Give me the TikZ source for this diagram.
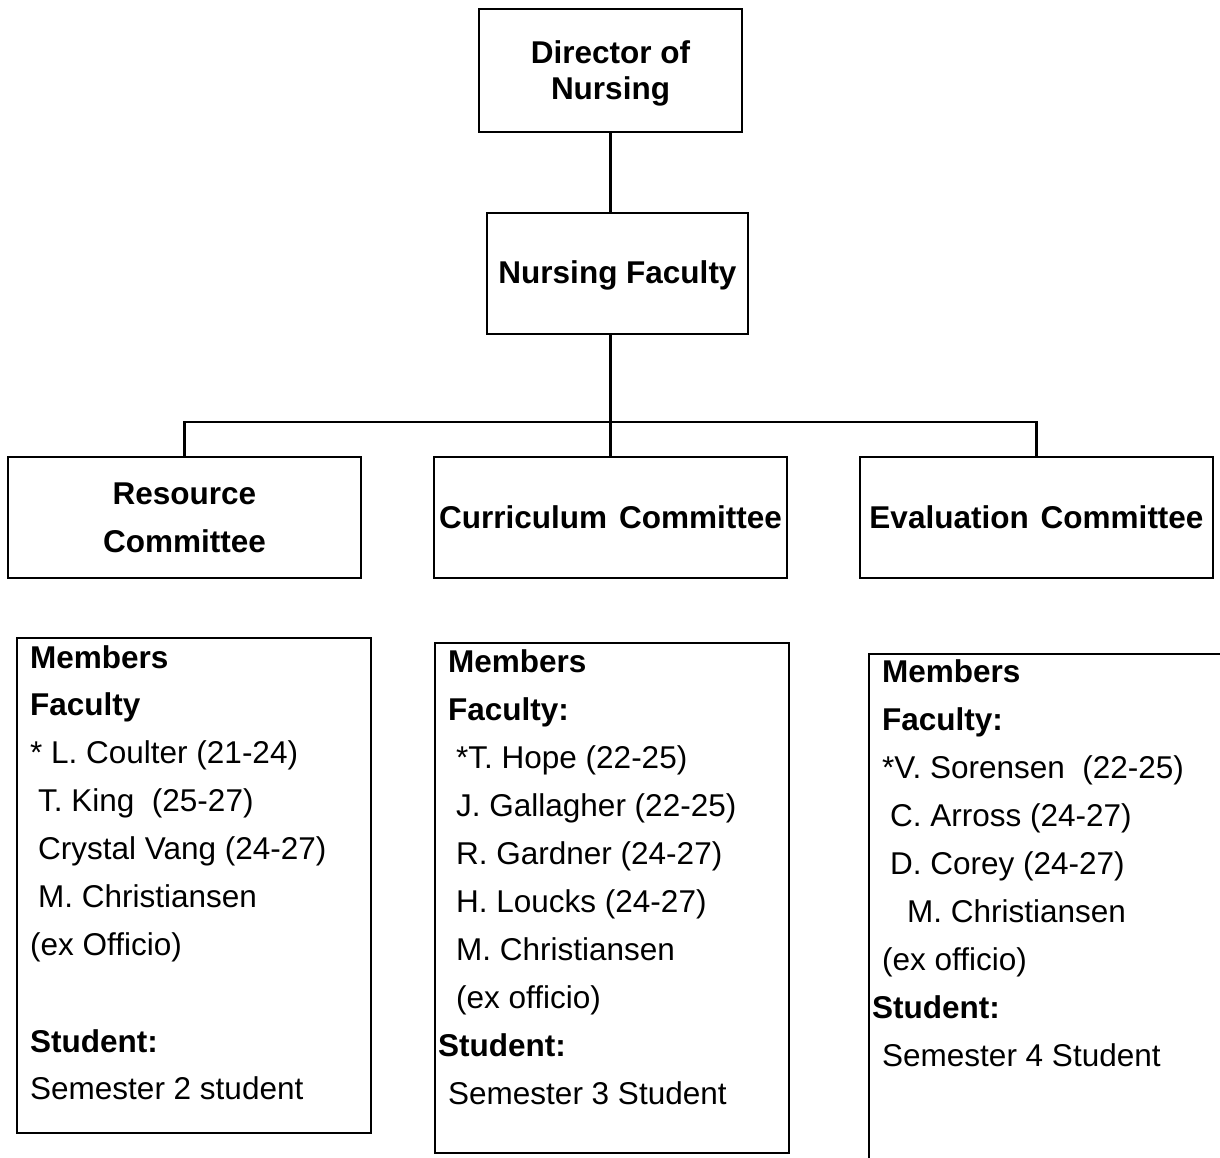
\documentclass[tikz,border=0pt]{standalone}
\usepackage{fontspec}
\setmainfont{Liberation Sans}
\begin{document}
\begin{tikzpicture}[x=1pt,y=-1pt,
  box/.style={draw, line width=2.6pt, inner sep=0pt},
  ttl/.style={font=\bfseries\fontsize{31.5}{48}\selectfont, align=center},
  conn/.style={line width=2.6pt},
  mem/.style={anchor=base west, inner sep=0pt, font=\fontsize{31.5}{38}\selectfont},
  memb/.style={anchor=base west, inner sep=0pt, font=\bfseries\fontsize{31.5}{38}\selectfont}]
\useasboundingbox (0,0) rectangle (1220,1157);
\fill[white] (0,0) rectangle (1220,1157);
\clip (0,0) rectangle (1220,1157);
% top boxes
\node[box, minimum width=263pt, minimum height=123pt] (dir) at (610.5,70.5) {};
\node[font=\bfseries\fontsize{31.5}{36}\selectfont, align=center, inner sep=0pt] (dirt) at (610.5,73) {Director of\\Nursing};
\node[box, minimum width=261pt, minimum height=121pt] (fac) at (617.5,273.5) {};
\node[ttl, inner sep=0pt] (fact) at (617.5,275) {Nursing Faculty};
% committees
\node[box, ttl, minimum width=353pt, minimum height=121pt] (res) at (184.5,517.5) {Resource\\Committee};
\node[box, ttl, minimum width=353pt, minimum height=121pt] (cur) at (610.5,517.5) {Curriculum\hspace{12pt}Committee};
\node[box, ttl, minimum width=353pt, minimum height=121pt] (eva) at (1036.5,517.5) {Evaluation\hspace{12pt}Committee};
% connectors
\coordinate (bus) at (610.5,422);
\draw[conn] (dir.south) -- (fac.north -| dir.south);
\draw[conn] (cur.north |- fac.south) -- (cur.north);
\draw[conn] (res.north) -- (res.north |- bus) -- (eva.north |- bus) -- (eva.north);
% member boxes
\node[box, minimum width=354pt, minimum height=495pt] (m1) at (194,885.5) {};
\node[box, minimum width=354pt, minimum height=510pt] (m2) at (612,898) {};
\node[box, minimum width=354pt, minimum height=510pt] (m3) at (1046,909) {};
% left members
\node[memb] (a1) at (30,668) {Members};
\node[memb] (a2) at (30,715) {Faculty};
\node[mem] (a3) at (30,763) {* L. Coulter (21-24)};
\node[mem] (a4) at (38,811) {T. King\ \ (25-27)};
\node[mem] (a5) at (38,859) {Crystal Vang (24-27)};
\node[mem] (a6) at (38,907) {M. Christiansen};
\node[mem] (a7) at (30,955) {(ex Officio)};
\node[memb] (a8) at (30,1052) {Student:};
\node[mem] (a9) at (30,1099) {Semester 2 student};
% middle members
\node[memb] (b1) at (448,672) {Members};
\node[memb] (b2) at (448,720) {Faculty:};
\node[mem] (b3) at (456,768) {*T. Hope (22-25)};
\node[mem] (b4) at (456,816) {J. Gallagher (22-25)};
\node[mem] (b5) at (456,864) {R. Gardner (24-27)};
\node[mem] (b6) at (456,912) {H. Loucks (24-27)};
\node[mem] (b7) at (456,960) {M. Christiansen};
\node[mem] (b8) at (456,1008) {(ex officio)};
\node[memb] (b9) at (438,1056) {Student:};
\node[mem] (b10) at (448,1104) {Semester 3 Student};
% right members
\node[memb] (c1) at (882,682) {Members};
\node[memb] (c2) at (882,730) {Faculty:};
\node[mem] (c3) at (882,778) {*V. Sorensen\ \ (22-25)};
\node[mem] (c4) at (890,826) {C. Arross (24-27)};
\node[mem] (c5) at (890,874) {D. Corey (24-27)};
\node[mem] (c6) at (907,922) {M. Christiansen};
\node[mem] (c7) at (882,970) {(ex officio)};
\node[memb] (c8) at (872,1018) {Student:};
\node[mem] (c9) at (882,1066) {Semester 4 Student};
\end{tikzpicture}
\end{document}
